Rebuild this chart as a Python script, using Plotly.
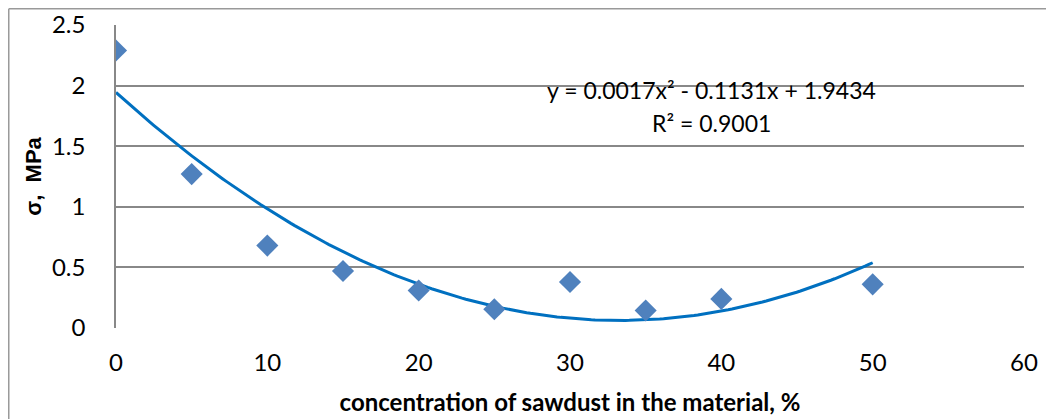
import numpy as np
import plotly.graph_objects as go

# data
concentration = [0, 5, 10, 15, 20, 25, 30, 35, 40, 50]
sigma = [2.29, 1.27, 0.68, 0.47, 0.31, 0.155, 0.38, 0.145, 0.24, 0.36]
trend_coeffs = [0.0017, -0.1131, 1.9434]   # quadratic trendline as labelled
x_ticks = [0, 10, 20, 30, 40, 50, 60]
y_ticks = [0, 0.5, 1, 1.5, 2, 2.5]
eq_text = "y = 0.0017x² - 0.1131x + 1.9434"
r2_text = "R² = 0.9001"

tx = np.linspace(min(concentration), max(concentration), 200)
ty = np.polyval(trend_coeffs, tx)

fig = go.Figure()
fig.add_trace(go.Scatter(x=tx, y=ty, mode="lines",
                         line=dict(color="#0070C0", width=3), hoverinfo="skip"))
fig.add_trace(go.Scatter(x=concentration, y=sigma, mode="markers",
                         marker=dict(symbol="diamond", size=17, color="#4F81BD")))

tickfont = dict(family="Lato, Carlito, sans-serif", size=24, color="#000")
annfont = dict(family="Lato, sans-serif", size=23, color="#000")
fig.update_layout(
    width=1054, height=419,
    margin=dict(l=108, r=38, t=17, b=99),
    paper_bgcolor="white", plot_bgcolor="white",
    showlegend=False,
    xaxis=dict(range=[0, 60], tickvals=x_ticks, showgrid=False, zeroline=False,
               showline=False, ticks="", tickfont=tickfont, ticklabelstandoff=18,
               automargin=False,
               title=dict(text="<b>concentration of sawdust in the material, %</b>",
                          font=dict(family="Lato, sans-serif", size=24, color="#000"),
                          standoff=19)),
    yaxis=dict(range=[0, 2.5], tickvals=y_ticks, showgrid=True, gridcolor="#888888",
               gridwidth=1.5, zeroline=False, showline=True, linecolor="#888888",
               linewidth=1.5, ticks="", tickfont=tickfont, ticklabelstandoff=24,
               automargin=False,
               title=dict(text="<b>σ,  MPa</b>",
                          font=dict(family="Liberation Sans, Arial, sans-serif", size=22, color="#000"),
                          standoff=4)),
    annotations=[
        dict(x=0.656, y=0.786, xref="paper", yref="paper", text=eq_text, showarrow=False,
             font=annfont, xanchor="center", yanchor="middle"),
        dict(x=0.656, y=0.677, xref="paper", yref="paper", text=r2_text, showarrow=False,
             font=annfont, xanchor="center", yanchor="middle"),
    ],
    shapes=[
        dict(type="line", xref="paper", yref="paper", x0=-0.1181, x1=-0.1181, y0=1.0536, y1=-0.4,
             line=dict(color="#999999", width=1.5)),
        dict(type="line", xref="paper", yref="paper", x0=-0.1181, x1=1.1, y0=1.0536, y1=1.0536,
             line=dict(color="#999999", width=1.5)),
    ],
)
fig.write_html("out.html")
